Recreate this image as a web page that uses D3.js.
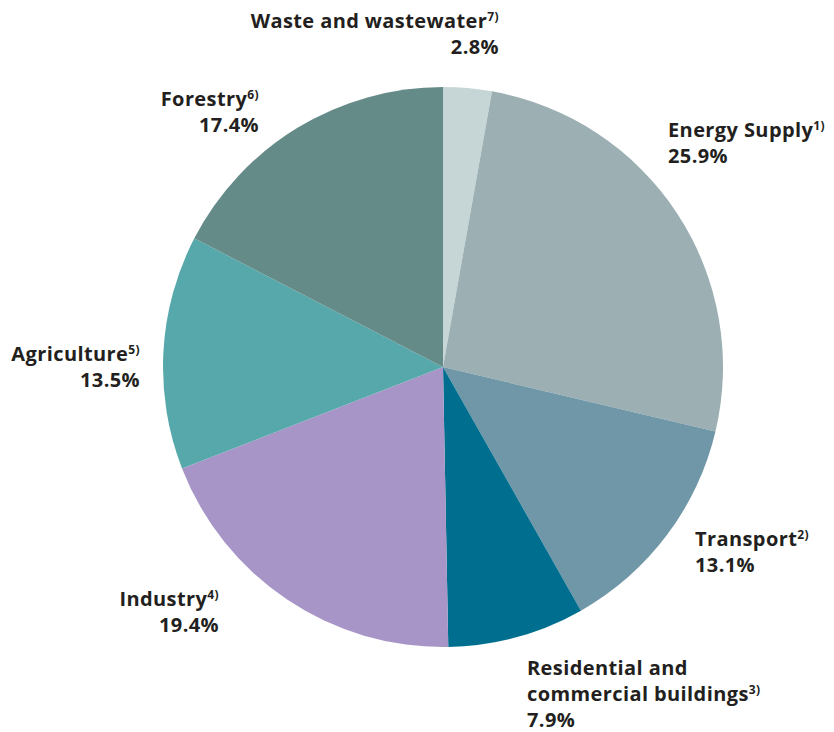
<!DOCTYPE html>
<html>
<head>
<meta charset="utf-8">
<script src="https://cdn.jsdelivr.net/npm/d3@7/dist/d3.min.js"></script>
<style>
  body { margin: 0; background: #fff; }
  svg text { font-family: "Open Sans", "DejaVu Sans", sans-serif; font-weight: 700; fill: #231f20; letter-spacing: 0.4px; }
</style>
</head>
<body>
<div id="chart"></div>
<script>
let sectors = ['Waste and wastewater', 'Energy Supply', 'Transport', 'Residential and commercial buildings', 'Industry', 'Agriculture', 'Forestry']
let notes = ['7)', '1)', '2)', '3)', '4)', '5)', '6)']
let shares = [2.8, 25.9, 13.1, 7.9, 19.4, 13.5, 17.4]
let colors = ['#c6d6d6', '#9cb0b3', '#7097a7', '#006f8f', '#a895c7', '#57a8ab', '#658b89']

let w = 834, h = 732
let cx = 443, cy = 367, r = 280

let svg = d3.select('#chart').append('svg').attr('width', w).attr('height', h)

let pie = d3.pie().sort(null).value(d => d)
let arc = d3.arc().innerRadius(0).outerRadius(r)

let g = svg.append('g').attr('transform', 'translate(' + cx + ',' + cy + ')')
g.selectAll('path').data(pie(shares)).enter().append('path')
  .attr('d', arc)
  .attr('fill', (d, i) => colors[i])

// label placement: anchor x, first baseline, alignment, lines of name
let labelPos = [
  { x: 499, y: 28, anchor: 'end', lines: ['Waste and wastewater'] },
  { x: 668, y: 137, anchor: 'start', lines: ['Energy Supply'] },
  { x: 695, y: 546, anchor: 'start', lines: ['Transport'] },
  { x: 527, y: 675, anchor: 'start', lines: ['Residential and', 'commercial buildings'] },
  { x: 219, y: 606, anchor: 'end', lines: ['Industry'] },
  { x: 140, y: 361, anchor: 'end', lines: ['Agriculture'] },
  { x: 259, y: 106, anchor: 'end', lines: ['Forestry'] }
]
let lineH = 26

labelPos.forEach((p, i) => {
  let t = svg.append('text').attr('text-anchor', p.anchor).style('font-size', '20px')
  p.lines.forEach((ln, j) => {
    t.append('tspan').attr('x', p.x).attr('y', p.y + j * lineH).text(ln)
    if (j == p.lines.length - 1) {
      t.append('tspan').attr('dy', -7).style('font-size', '12px').text(notes[i])
    }
  })
  t.append('tspan').attr('x', p.x).attr('y', p.y + p.lines.length * lineH)
    .text(d3.format('.1f')(shares[i]) + '%')
})
</script>
</body>
</html>
